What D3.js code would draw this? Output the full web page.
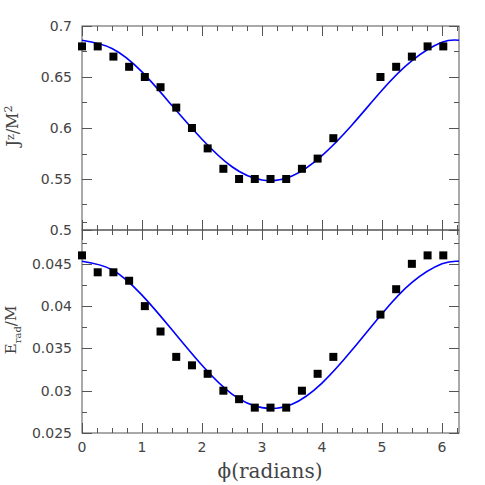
<!DOCTYPE html>
<html>
<head>
<meta charset="utf-8">
<script src="https://cdn.jsdelivr.net/npm/d3@7"></script>
<style>
  body { margin: 0; background: #fff; }
  svg text { fill: #444; }
</style>
</head>
<body>
<script>
// data
const phiPts = [0, 0.2618, 0.5236, 0.7854, 1.0472, 1.309, 1.5708, 1.8326, 2.0944, 2.3562, 2.618, 2.8798, 3.1416, 3.4034, 3.6652, 3.927, 4.1888, 4.9742, 5.236, 5.4978, 5.7596, 6.0214];
const jzPts = [0.68, 0.68, 0.67, 0.66, 0.65, 0.64, 0.62, 0.60, 0.58, 0.56, 0.55, 0.55, 0.55, 0.55, 0.56, 0.57, 0.59, 0.65, 0.66, 0.67, 0.68, 0.68];
const eradPts = [0.046, 0.044, 0.044, 0.043, 0.040, 0.037, 0.034, 0.033, 0.032, 0.030, 0.029, 0.028, 0.028, 0.028, 0.030, 0.032, 0.034, 0.039, 0.042, 0.045, 0.046, 0.046];

// fitted curves
const phiFit = [0, 0.5, 1, 1.5, 2, 2.5, 3, 3.5, 4, 4.5, 5, 5.5, 6, 6.283];
const jzFit = [0.686, 0.678, 0.655, 0.622, 0.589, 0.562, 0.549, 0.553, 0.573, 0.603, 0.637, 0.666, 0.684, 0.686];
const eradFit = [0.0453, 0.0443, 0.0413, 0.0372, 0.0330, 0.0296, 0.0280, 0.0284, 0.0309, 0.0348, 0.0391, 0.0428, 0.0450, 0.0453];

const jzTicks = [0.5, 0.55, 0.6, 0.65, 0.7];
const eradTicks = [0.025, 0.03, 0.035, 0.04, 0.045];
const xTicks = [0, 1, 2, 3, 4, 5, 6];

const W = 485, H = 485;
const left = 82, right = 459;
const svg = d3.select("body").append("svg").attr("width", W).attr("height", H)
  .style("font-family", "'DejaVu Sans', sans-serif");

const x = d3.scaleLinear().domain([0, 2 * Math.PI]).range([left, right]);

const panels = [
  { top: 26, bottom: 230, domain: [0.5, 0.7], ticks: jzTicks, minor: 0.025, pts: jzPts, fit: jzFit },
  { top: 230, bottom: 433, domain: [0.025, 0.049], ticks: eradTicks, minor: 0.0025, pts: eradPts, fit: eradFit }
];

const minorX = d3.range(0, 6.3, 0.25);

panels.forEach(p => {
  const y = d3.scaleLinear().domain(p.domain).range([p.bottom, p.top]);
  const g = svg.append("g");

  // frame
  g.append("rect").attr("x", left).attr("y", p.top)
    .attr("width", right - left).attr("height", p.bottom - p.top)
    .attr("fill", "none").attr("stroke", "#555").attr("stroke-width", 1);

  // x ticks top and bottom, inward
  minorX.forEach(v => {
    const major = Math.abs(v - Math.round(v)) < 1e-6;
    const len = major ? 10 : 5;
    const xx = Math.round(x(v)) + 0.5;
    g.append("line").attr("x1", xx).attr("x2", xx).attr("y1", p.bottom).attr("y2", p.bottom - len)
      .attr("stroke", "#555");
    g.append("line").attr("x1", xx).attr("x2", xx).attr("y1", p.top).attr("y2", p.top + len)
      .attr("stroke", "#555");
  });

  // y ticks left and right, inward
  const nMinor = Math.round((p.domain[1] - p.domain[0]) / p.minor);
  d3.range(0, nMinor + 1).forEach(i => {
    const v = p.domain[0] + i * p.minor;
    const major = p.ticks.some(t => Math.abs(t - v) < 1e-9);
    const len = major ? 10 : 5;
    const yy = Math.round(y(v)) + 0.5;
    g.append("line").attr("x1", left).attr("x2", left + len).attr("y1", yy).attr("y2", yy).attr("stroke", "#555");
    g.append("line").attr("x1", right).attr("x2", right - len).attr("y1", yy).attr("y2", yy).attr("stroke", "#555");
  });

  // y tick labels
  g.selectAll("text.yl").data(p.ticks).enter().append("text")
    .attr("x", 72).attr("y", d => y(d) + 5)
    .attr("text-anchor", "end").attr("font-size", 14)
    .text(d => d);

  // curve
  const line = d3.line().x((d, i) => x(phiFit[i])).y(d => y(d)).curve(d3.curveNatural);
  g.append("path").datum(p.fit).attr("d", line)
    .attr("fill", "none").attr("stroke", "#0000ff").attr("stroke-width", 1.6);

  // points
  const s = 8;
  g.selectAll("rect.pt").data(p.pts).enter().append("rect")
    .attr("x", (d, i) => x(phiPts[i]) - s / 2)
    .attr("y", d => y(d) - s / 2)
    .attr("width", s).attr("height", s).attr("fill", "#000");
});

// x tick labels
svg.selectAll("text.xl").data(xTicks).enter().append("text")
  .attr("x", d => x(d)).attr("y", 452)
  .attr("text-anchor", "middle").attr("font-size", 14)
  .text(d => d);

// axis titles
const serif = "'DejaVu Serif', 'Liberation Serif', serif";
const t1 = svg.append("text").attr("transform", "translate(18,126) rotate(-90)")
  .attr("text-anchor", "middle").attr("font-family", serif).attr("font-size", 16);
t1.append("tspan").text("J");
t1.append("tspan").attr("font-size", 11).attr("dy", -4).text("z");
t1.append("tspan").attr("dy", 4).text("/M");
t1.append("tspan").attr("font-size", 11).attr("dy", -6).text("2");

const t2 = svg.append("text").attr("transform", "translate(16,330) rotate(-90)")
  .attr("text-anchor", "middle").attr("font-family", serif).attr("font-size", 15);
t2.append("tspan").text("E");
t2.append("tspan").attr("font-size", 10).attr("dy", 5).text("rad");
t2.append("tspan").attr("dy", -5).text("/M");

svg.append("text").attr("x", 270).attr("y", 478)
  .attr("text-anchor", "middle").attr("font-family", serif).attr("font-size", 20)
  .text("\u03d5(radians)");
</script>
</body>
</html>
